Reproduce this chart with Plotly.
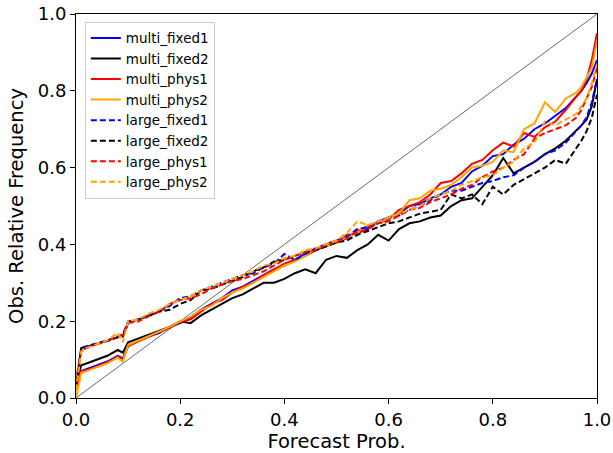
import plotly.graph_objects as go

forecast_prob = [0.0, 0.01, 0.02, 0.04, 0.06, 0.08, 0.09, 0.10, 0.12, 0.14, 0.16, 0.18, 0.20,
                 0.22, 0.24, 0.26, 0.28, 0.30, 0.32, 0.34, 0.36, 0.38, 0.40, 0.42, 0.44, 0.46,
                 0.48, 0.50, 0.52, 0.54, 0.56, 0.58, 0.60, 0.62, 0.64, 0.66, 0.68, 0.70, 0.72,
                 0.74, 0.76, 0.78, 0.80, 0.82, 0.84, 0.86, 0.88, 0.90, 0.92, 0.94, 0.96, 0.97,
                 0.98, 0.99, 1.0]

multi_fixed1 = [0.03, 0.07, 0.075, 0.085, 0.095, 0.11, 0.103, 0.135,
                0.15, 0.16, 0.17, 0.185, 0.195, 0.21, 0.23, 0.245, 0.26, 0.28, 0.29, 0.305,
                0.32, 0.335, 0.345, 0.36, 0.375, 0.385, 0.395, 0.405,
                0.42, 0.43, 0.44, 0.46, 0.47, 0.48, 0.50, 0.505, 0.52, 0.53, 0.55, 0.56,
                0.59, 0.605, 0.63, 0.635, 0.66, 0.675, 0.70, 0.715, 0.735, 0.755, 0.785,
                0.80, 0.82, 0.845, 0.88]

multi_fixed2 = [0.04, 0.085, 0.09, 0.10, 0.11, 0.125, 0.118, 0.145,
                0.155, 0.165, 0.175, 0.185, 0.20, 0.195, 0.215, 0.23, 0.245, 0.26, 0.27, 0.285,
                0.30, 0.30, 0.31, 0.325, 0.335, 0.325, 0.36, 0.37,
                0.365, 0.385, 0.40, 0.425, 0.41, 0.44, 0.455, 0.46, 0.47, 0.475, 0.50, 0.515,
                0.52, 0.55, 0.58, 0.625, 0.585, 0.60, 0.615, 0.635, 0.65, 0.67, 0.695,
                0.71, 0.725, 0.76, 0.83]

multi_phys1 = [0.03, 0.07, 0.072, 0.083, 0.093, 0.108, 0.10, 0.135,
               0.148, 0.16, 0.172, 0.183, 0.198, 0.205, 0.225, 0.245, 0.255, 0.275, 0.29, 0.30,
               0.32, 0.335, 0.35, 0.36, 0.37, 0.385, 0.40, 0.41,
               0.415, 0.435, 0.445, 0.455, 0.465, 0.49, 0.50, 0.51, 0.53, 0.56, 0.565, 0.585,
               0.61, 0.62, 0.645, 0.665, 0.655, 0.69, 0.68, 0.705, 0.72, 0.75, 0.785,
               0.80, 0.83, 0.88, 0.95]

multi_phys2 = [0.0, 0.065, 0.07, 0.08, 0.09, 0.105, 0.095, 0.138,
               0.15, 0.163, 0.175, 0.185, 0.20, 0.212, 0.23, 0.24, 0.26, 0.275, 0.285, 0.30,
               0.315, 0.33, 0.345, 0.355, 0.37, 0.39, 0.395, 0.405,
               0.42, 0.43, 0.45, 0.455, 0.47, 0.48, 0.515, 0.52, 0.54, 0.545, 0.555, 0.575,
               0.60, 0.605, 0.615, 0.645, 0.64, 0.70, 0.715, 0.77, 0.745, 0.78, 0.795,
               0.81, 0.835, 0.86, 0.93]

large_fixed1 = [0.04, 0.13, 0.135, 0.142, 0.15, 0.16, 0.165, 0.20,
                0.205, 0.215, 0.225, 0.24, 0.26, 0.265, 0.28, 0.29, 0.30, 0.31, 0.32, 0.325,
                0.34, 0.35, 0.375, 0.36, 0.375, 0.39, 0.40, 0.41,
                0.42, 0.44, 0.445, 0.46, 0.47, 0.475, 0.49, 0.50, 0.515, 0.53, 0.54, 0.54,
                0.55, 0.56, 0.565, 0.575, 0.58, 0.60, 0.615, 0.635, 0.645, 0.665, 0.695,
                0.71, 0.73, 0.77, 0.83]

large_fixed2 = [0.03, 0.13, 0.133, 0.14, 0.148, 0.158, 0.16, 0.195,
                0.205, 0.215, 0.225, 0.23, 0.245, 0.255, 0.28, 0.285, 0.295, 0.305, 0.315, 0.33,
                0.34, 0.355, 0.36, 0.37, 0.38, 0.385, 0.395, 0.405,
                0.41, 0.425, 0.435, 0.445, 0.455, 0.46, 0.47, 0.48, 0.485, 0.49, 0.53, 0.52,
                0.53, 0.505, 0.55, 0.53, 0.555, 0.57, 0.585, 0.60, 0.62, 0.61, 0.65,
                0.67, 0.695, 0.73, 0.79]

large_phys1 = [0.04, 0.125, 0.13, 0.14, 0.148, 0.158, 0.165, 0.195,
               0.20, 0.213, 0.225, 0.245, 0.255, 0.26, 0.27, 0.285, 0.295, 0.305, 0.31, 0.32,
               0.33, 0.345, 0.36, 0.37, 0.38, 0.385, 0.40, 0.405,
               0.425, 0.43, 0.44, 0.455, 0.46, 0.475, 0.49, 0.495, 0.51, 0.52, 0.53, 0.545,
               0.555, 0.575, 0.59, 0.60, 0.62, 0.635, 0.675, 0.69, 0.70, 0.71, 0.73,
               0.75, 0.78, 0.81, 0.86]

large_phys2 = [0.02, 0.12, 0.13, 0.14, 0.15, 0.17, 0.145, 0.20,
               0.205, 0.22, 0.23, 0.245, 0.255, 0.265, 0.28, 0.29, 0.30, 0.31, 0.32, 0.33,
               0.345, 0.35, 0.365, 0.37, 0.385, 0.39, 0.40, 0.41,
               0.43, 0.46, 0.45, 0.46, 0.47, 0.48, 0.49, 0.50, 0.52, 0.53, 0.54, 0.555,
               0.565, 0.575, 0.58, 0.60, 0.615, 0.65, 0.665, 0.72, 0.71, 0.725, 0.74,
               0.76, 0.78, 0.82, 0.87]

diag = [0.0, 1.0]

series = [
    ("multi_fixed1", multi_fixed1, "#0000ff", "solid"),
    ("multi_fixed2", multi_fixed2, "#000000", "solid"),
    ("multi_phys1", multi_phys1, "#ff0000", "solid"),
    ("multi_phys2", multi_phys2, "#ffa500", "solid"),
    ("large_fixed1", large_fixed1, "#0000ff", "6px,3px"),
    ("large_fixed2", large_fixed2, "#000000", "6px,3px"),
    ("large_phys1", large_phys1, "#ff0000", "6px,3px"),
    ("large_phys2", large_phys2, "#ffa500", "6px,3px"),
]

fig = go.Figure()
fig.add_trace(go.Scatter(x=diag, y=diag, mode="lines", showlegend=False,
                         line=dict(color="#444444", width=0.8), hoverinfo="skip"))
for name, vals, color, dash in series:
    fig.add_trace(go.Scatter(x=forecast_prob, y=vals, mode="lines", name=name,
                             line=dict(color=color, width=2, dash=dash)))

axis_common = dict(
    range=[0, 1], dtick=0.2, tickformat=".1f", showgrid=False, zeroline=False,
    showline=True, mirror=True, linecolor="#000000", linewidth=1,
    ticks="outside", ticklen=5, tickcolor="#000000", automargin=False,
    tickfont=dict(family="DejaVu Sans", size=18, color="#000000"),
)

fig.update_layout(
    width=613, height=453,
    margin=dict(l=76, r=16, t=14, b=55, autoexpand=False),
    plot_bgcolor="white", paper_bgcolor="white",
    font=dict(family="DejaVu Sans", color="#000000"),
    xaxis=dict(title=dict(text="Forecast Prob.", font=dict(size=19.5), standoff=4), **axis_common),
    yaxis=dict(title=dict(text="Obs. Relative Frequency", font=dict(size=19.5), standoff=8), **axis_common),
    legend=dict(x=0.017, y=0.98, xanchor="left", yanchor="top",
                bgcolor="rgba(255,255,255,0.85)", bordercolor="#cccccc", borderwidth=1,
                font=dict(family="DejaVu Sans", size=13.5, color="#000000"),
                tracegroupgap=0),
)

fig.write_html("out.html", config={"displayModeBar": False},
               post_script="document.body.style.margin='0';document.body.style.overflow='hidden';")
